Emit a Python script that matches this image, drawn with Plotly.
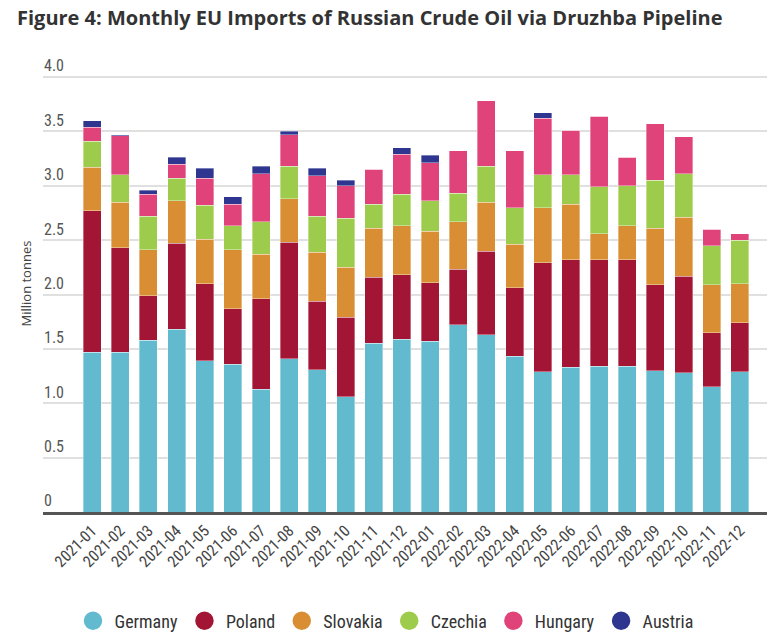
import plotly.graph_objects as go

months = ["2021-01", "2021-02", "2021-03", "2021-04", "2021-05", "2021-06",
          "2021-07", "2021-08", "2021-09", "2021-10", "2021-11", "2021-12",
          "2022-01", "2022-02", "2022-03", "2022-04", "2022-05", "2022-06",
          "2022-07", "2022-08", "2022-09", "2022-10", "2022-11", "2022-12"]

germany = [1.47, 1.47, 1.58, 1.68, 1.39, 1.36, 1.13, 1.41, 1.31, 1.06, 1.55, 1.59,
           1.57, 1.72, 1.63, 1.43, 1.29, 1.33, 1.34, 1.34, 1.30, 1.28, 1.15, 1.29]
poland = [1.30, 0.96, 0.41, 0.79, 0.71, 0.51, 0.83, 1.07, 0.63, 0.73, 0.61, 0.59,
          0.54, 0.51, 0.77, 0.63, 1.00, 0.99, 0.98, 0.98, 0.79, 0.89, 0.50, 0.45]
slovakia = [0.40, 0.42, 0.42, 0.39, 0.41, 0.54, 0.41, 0.40, 0.45, 0.46, 0.45, 0.45,
            0.47, 0.44, 0.45, 0.40, 0.51, 0.51, 0.24, 0.31, 0.52, 0.54, 0.44, 0.36]
czechia = [0.24, 0.25, 0.31, 0.21, 0.31, 0.22, 0.30, 0.30, 0.33, 0.45, 0.22, 0.29,
           0.28, 0.26, 0.33, 0.34, 0.30, 0.27, 0.43, 0.37, 0.44, 0.40, 0.36, 0.40]
hungary = [0.13, 0.36, 0.20, 0.13, 0.25, 0.20, 0.44, 0.29, 0.37, 0.30, 0.32, 0.37,
           0.35, 0.39, 0.60, 0.52, 0.52, 0.41, 0.65, 0.26, 0.52, 0.34, 0.15, 0.06]
austria = [0.06, 0.01, 0.04, 0.06, 0.09, 0.07, 0.07, 0.03, 0.07, 0.05, 0.00, 0.06,
           0.07, 0.00, 0.00, 0.00, 0.05, 0.00, 0.00, 0.00, 0.00, 0.00, 0.00, 0.00]

series = [
    ("Germany", germany, "#62bacf"),
    ("Poland", poland, "#a31535"),
    ("Slovakia", slovakia, "#d98e33"),
    ("Czechia", czechia, "#9dcb4b"),
    ("Hungary", hungary, "#e04379"),
    ("Austria", austria, "#2e3690"),
]

y_tick_vals = [0, 0.5, 1.0, 1.5, 2.0, 2.5, 3.0, 3.5, 4.0]
y_tick_text = ["0", "0.5", "1.0", "1.5", "2.0", "2.5", "3.0", "3.5", "4.0"]

COND = "Liberation Sans Narrow, Roboto Condensed, Arial Narrow, Roboto, sans-serif"

fig = go.Figure()
for name, vals, color in series:
    fig.add_trace(go.Bar(
        x=months, y=vals, name=name, showlegend=False,
        marker=dict(color=color, line=dict(color="rgba(255,255,255,0.45)", width=0.8)),
    ))
for name, vals, color in series:
    fig.add_trace(go.Scatter(
        x=[None], y=[None], mode="markers", name=name,
        marker=dict(color=color, size=16, symbol="circle",
                    line=dict(color=color, width=2.5)),
    ))

# the page body adds an 8px offset, so the figure is 8px smaller than the window
W, H = 767, 630
PLOT_BOTTOM = 504          # y pixel of the zero line inside the figure
PX_PER_UNIT = 108.75
TOP_MARGIN = 36
y_top = (PLOT_BOTTOM - TOP_MARGIN) / PX_PER_UNIT

fig.update_layout(
    width=W, height=H,
    barmode="stack", bargap=0.36,
    plot_bgcolor="white", paper_bgcolor="white",
    margin=dict(l=35, r=8, t=TOP_MARGIN, b=H - PLOT_BOTTOM, autoexpand=False),
    title=dict(
        text="<b>Figure 4: Monthly EU Imports of Russian Crude Oil via Druzhba Pipeline</b>",
        font=dict(family="Open Sans", size=20, color="#333333"),
        x=9 / W, xanchor="left", xref="container",
        y=1 - 10 / H, yanchor="middle", yref="container",
    ),
    xaxis=dict(
        type="category", range=[-1.74, 23.96], automargin=False,
        tickangle=-45, tickfont=dict(family=COND, size=16, color="#444444"),
        showline=True, linecolor="#555555", linewidth=3,
        showgrid=False, ticks="", fixedrange=True,
    ),
    yaxis=dict(
        range=[0, y_top], tickvals=y_tick_vals, ticktext=y_tick_text,
        automargin=False,
        ticklabelposition="inside top", ticklabelstandoff=-2,
        tickfont=dict(family=COND, size=16, color="#555555"),
        showgrid=True, gridcolor="#e0e0e0", gridwidth=1.5,
        zeroline=False, showline=False, ticks="",
    ),
    legend=dict(
        orientation="h", xref="container", yref="container",
        x=63.5 / W, xanchor="left", y=1 - 613 / H, yanchor="middle",
        font=dict(family=COND, size=18, color="#333333"),
        traceorder="normal", itemclick=False, itemwidth=33,
    ),
    annotations=[dict(
        text="Million tonnes", textangle=-90,
        xref="paper", yref="paper", x=(17.5 - 35) / 724,
        y=(PLOT_BOTTOM - 276) / (PLOT_BOTTOM - TOP_MARGIN),
        xanchor="center", yanchor="middle", showarrow=False,
        font=dict(family="Open Sans", size=13, color="#444444"),
    )],
)

fig.write_html("out.html")
